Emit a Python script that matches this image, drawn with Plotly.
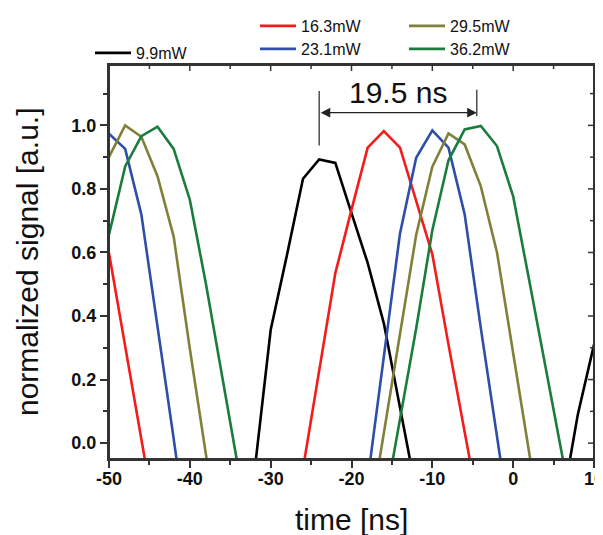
import plotly.graph_objects as go

# time axis (ns), sampled every 2 ns
time_ns = list(range(-50, 11, 2))

labels = ["9.9mW", "16.3mW", "23.1mW", "29.5mW", "36.2mW"]

sig_9_9 = [-0.3, -0.3, -0.3, -0.3, -0.3, -0.3, -0.3, -0.3, -0.3, -0.09,
           0.356, 0.59, 0.832, 0.893, 0.882, 0.724, 0.567, 0.377, 0.112, -0.153,
           -0.3, -0.3, -0.3, -0.3, -0.3, -0.3, -0.3, -0.3, -0.2, 0.09, 0.31]
sig_16_3 = [0.598, 0.305, 0.012, -0.28, -0.3, -0.3, -0.3, -0.3, -0.3, -0.3,
            -0.3, -0.3, -0.08, 0.23, 0.535, 0.735, 0.93, 0.982, 0.93, 0.762,
            0.594, 0.31, 0.035, -0.24, -0.3, -0.3, -0.3, -0.3, -0.3, -0.3, -0.3]
sig_23_1 = [0.974, 0.926, 0.72, 0.374, 0.014, -0.35, -0.3, -0.3, -0.3, -0.3,
            -0.3, -0.3, -0.3, -0.3, -0.3, -0.3, -0.116, 0.272, 0.66, 0.898,
            0.984, 0.93, 0.72, 0.362, 0.022, -0.32, -0.3, -0.3, -0.3, -0.3, -0.3]
sig_29_5 = [0.901, 1.0, 0.964, 0.84, 0.65, 0.297, -0.037, -0.37, -0.3, -0.3,
            -0.3, -0.3, -0.3, -0.3, -0.3, -0.3, -0.28, 0.035, 0.347, 0.655,
            0.87, 0.975, 0.94, 0.808, 0.6, 0.29, -0.03, -0.35, -0.3, -0.3, -0.3]
sig_36_2 = [0.656, 0.871, 0.966, 0.996, 0.926, 0.766, 0.50, 0.21, -0.08, -0.3,
            -0.3, -0.3, -0.3, -0.3, -0.3, -0.3, -0.3, -0.21, 0.077, 0.361,
            0.67, 0.89, 0.987, 0.998, 0.935, 0.777, 0.51, 0.236, -0.04, -0.3, -0.3]

series = [sig_9_9, sig_16_3, sig_23_1, sig_29_5, sig_36_2]
colors = ["#000000", "#f21c1c", "#2e4ea8", "#80803a", "#1a7d3c"]

x_tick_vals = [-50, -40, -30, -20, -10, 0, 10]
x_tick_text = ["-50", "-40", "-30", "-20", "-10", "0", "10"]
x_minor_vals = [-45, -35, -25, -15, -5, 5]
y_tick_vals = [0.0, 0.2, 0.4, 0.6, 0.8, 1.0]
y_minor_vals = [0.1, 0.3, 0.5, 0.7, 0.9, 1.1]

x_title = "time [ns]"
y_title = "normalized signal [a.u.]"

# delay annotation
delay_label = "19.5 ns"
delay_start = -24.0
delay_end = -4.5

FONT = "Liberation Sans, Arial, sans-serif"
PAGE_OFF = 8          # default body margin of the page
W, H = 603 - PAGE_OFF, 535 - PAGE_OFF
ML, MR, MT, MB = 109 - PAGE_OFF, 9, 65 - PAGE_OFF, 76
PW, PH = W - ML - MR, H - MT - MB

fig = go.Figure()
legend_names = ["legend", "legend2", "legend3", "legend4", "legend5"]
for s, name, c, lg in zip(series, labels, colors, legend_names):
    fig.add_trace(go.Scatter(x=time_ns, y=s, mode="lines", name=name,
                             line=dict(color=c, width=2.6), legend=lg))

xr = [-50, 10]
yr = [-0.05, 1.19]
axcol = "#333333"

# legend positions (page pixel coords of the line start, row centre)
leg_pos = [(95, 53), (260, 26), (260, 49), (409, 26), (409, 49)]
off = 5
for lg, (px, py) in zip(legend_names, leg_pos):
    fig.update_layout({lg: dict(x=(px - PAGE_OFF - off) / W, y=1 - (py - PAGE_OFF) / H,
                                xref="container", yref="container", itemwidth=36,
                                xanchor="left", yanchor="middle", bgcolor="rgba(0,0,0,0)",
                                borderwidth=0, font=dict(family=FONT, size=16, color="#111"))})

fig.update_layout(
    width=W, height=H, autosize=False,
    margin=dict(l=ML, r=MR, t=MT, b=MB, autoexpand=False),
    plot_bgcolor="white", paper_bgcolor="white",
    showlegend=True,
    xaxis=dict(range=xr, tickvals=x_tick_vals, ticktext=x_tick_text, ticks="outside", ticklen=7,
               tickwidth=1.5, ticklabeloverflow="allow", ticklabelstandoff=-5,
               tickcolor=axcol, showline=True, linecolor=axcol, linewidth=2, mirror=True,
               showgrid=False, zeroline=False, automargin=False,
               minor=dict(ticks="outside", ticklen=4, tickvals=x_minor_vals, tickcolor=axcol, tickwidth=1.5),
               tickfont=dict(family=FONT, size=18, color="#111", weight="bold")),
    yaxis=dict(range=yr, tickvals=y_tick_vals, tickformat=".1f", ticks="outside", ticklen=7,
               tickwidth=1.5, tickcolor=axcol, showline=True, linecolor=axcol, linewidth=2,
               mirror=True, showgrid=False, zeroline=False, automargin=False,
               minor=dict(ticks="outside", ticklen=4, tickvals=y_minor_vals, tickcolor=axcol, tickwidth=1.5),
               tickfont=dict(family=FONT, size=18, color="#111", weight="bold")),
)

# plot frame
fig.add_shape(type="rect", xref="paper", yref="paper", x0=0, x1=1, y0=0, y1=1,
              line=dict(color=axcol, width=2), fillcolor="rgba(0,0,0,0)", layer="above")

# inward ticks on the top and right edges (mirrors of the axis ticks)
for vals, ln in ((x_tick_vals, 6), (x_minor_vals, 4)):
    for v in vals:
        fig.add_shape(type="line", xref="x", yref="paper", x0=v, x1=v, y0=1, y1=1 - ln / PH,
                      line=dict(color=axcol, width=1.5), layer="above")
for vals, ln in ((y_tick_vals, 6), (y_minor_vals, 4)):
    for v in vals:
        fig.add_shape(type="line", xref="paper", yref="y", x0=1, x1=1 - ln / PW, y0=v, y1=v,
                      line=dict(color=axcol, width=1.5), layer="above")

# axis titles
fig.add_annotation(x=0.5, y=(459 - 519) / PH, xref="paper", yref="paper", text=x_title,
                   showarrow=False, xanchor="center", yanchor="middle",
                   font=dict(family=FONT, size=30, color="#111"))
fig.add_annotation(x=(27 - 109) / PW, y=0.5, xref="paper", yref="paper", text=y_title,
                   textangle=-90, showarrow=False, xanchor="center", yanchor="middle",
                   font=dict(family=FONT, size=30, color="#111"))

# delay marker lines
fig.add_shape(type="line", x0=delay_start, x1=delay_start, y0=0.937, y1=1.108,
              line=dict(color="#333", width=1.3))
fig.add_shape(type="line", x0=delay_end, x1=delay_end, y0=1.029, y1=1.112,
              line=dict(color="#333", width=1.3))
fig.add_annotation(x=delay_end, y=1.040, ax=delay_start, ay=1.040, axref="x", ayref="y",
                   xref="x", yref="y", text="", showarrow=True, arrowhead=2, arrowside="end+start",
                   arrowsize=1.6, arrowwidth=1.2, arrowcolor="#222", standoff=0, startstandoff=0)
fig.add_annotation(x=(delay_start + delay_end) / 2, y=1.105, xref="x", yref="y", text=delay_label,
                   showarrow=False, font=dict(family=FONT, size=30, color="#111"), yanchor="middle")

fig.write_html("out.html")
